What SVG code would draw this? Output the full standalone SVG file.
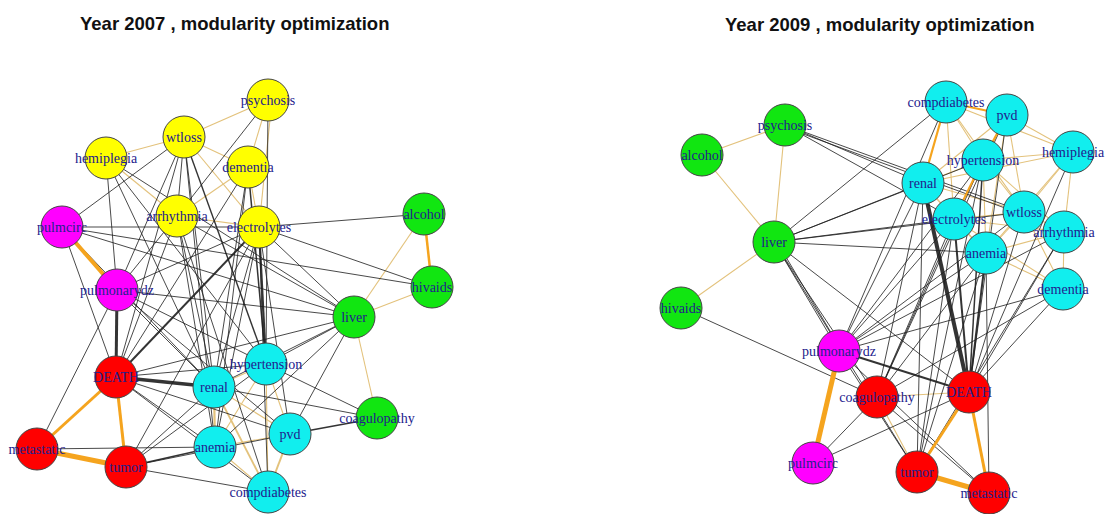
<svg xmlns="http://www.w3.org/2000/svg" width="1108" height="514" viewBox="0 0 1108 514">
<style>
.title{font-family:"Liberation Sans",Arial,sans-serif;font-weight:bold;font-size:18.5px;fill:#111}
.k{stroke:#1e1e1e;stroke-width:0.9;fill:none;stroke-opacity:0.9}
.t{stroke:#e3c27c;stroke-width:1.1;fill:none}
.o{stroke:#f5a41e;fill:none}
.n circle{stroke:#444;stroke-width:1}
.n text{font-family:"Liberation Serif","Times New Roman",serif;font-size:14px;fill:#22208c;text-anchor:middle;dominant-baseline:central}
.y{fill:#ffff00}.m{fill:#ff00ff}.g{fill:#11e611}.c{fill:#11eeee}.r{fill:#ff0000}
</style>
<rect width="1108" height="514" fill="#fff"/>
<text class="title" x="80" y="30">Year 2007 , modularity optimization</text>
<text class="title" x="725" y="31">Year 2009 , modularity optimization</text>

<g id="edges-2007">
<line class="t" x1="184" y1="137" x2="268" y2="100"/>
<line class="t" x1="184" y1="137" x2="106" y2="158"/>
<line class="t" x1="184" y1="137" x2="248" y2="167"/>
<line class="t" x1="184" y1="137" x2="259" y2="227"/>
<line class="t" x1="268" y1="100" x2="248" y2="167"/>
<line class="t" x1="272" y1="100" x2="259" y2="227"/>
<line class="t" x1="248" y1="167" x2="259" y2="227"/>
<line class="t" x1="177" y1="216" x2="248" y2="167"/>
<line class="t" x1="177" y1="216" x2="259" y2="227"/>
<line class="t" x1="106" y1="158" x2="177" y2="216"/>
<line class="t" x1="354" y1="317" x2="432" y2="287"/>
<line class="t" x1="354" y1="317" x2="424" y2="214"/>
<line class="t" x1="354" y1="317" x2="377" y2="418"/>
<line class="t" x1="214" y1="387" x2="266" y2="364"/>
<line class="t" x1="214" y1="387" x2="215" y2="447" style="stroke-width:2.2"/>
<line class="t" x1="214" y1="387" x2="290" y2="434"/>
<line class="t" x1="214" y1="387" x2="268" y2="492" style="stroke-width:1.8"/>
<line class="t" x1="266" y1="364" x2="290" y2="434"/>
<line class="t" x1="266" y1="364" x2="268" y2="492"/>
<line class="t" x1="266" y1="364" x2="215" y2="447"/>
<line class="t" x1="215" y1="447" x2="268" y2="492"/>
<line class="t" x1="290" y1="434" x2="268" y2="492" style="stroke-width:2"/>
<line class="t" x1="215" y1="447" x2="290" y2="434"/>
<line class="k" x1="116" y1="377" x2="117" y2="290" style="stroke-width:3"/>
<line class="k" x1="116" y1="377" x2="214" y2="387" style="stroke-width:3.5"/>
<line class="k" x1="116" y1="377" x2="259" y2="227" style="stroke-width:2"/>
<line class="k" x1="116" y1="377" x2="266" y2="364"/>
<line class="k" x1="116" y1="377" x2="215" y2="447"/>
<line class="k" x1="116" y1="377" x2="290" y2="434"/>
<line class="k" x1="116" y1="377" x2="354" y2="317"/>
<line class="k" x1="116" y1="377" x2="268" y2="492"/>
<line class="k" x1="116" y1="377" x2="177" y2="216"/>
<line class="k" x1="116" y1="377" x2="184" y2="137"/>
<line class="k" x1="116" y1="377" x2="248" y2="167"/>
<line class="k" x1="116" y1="377" x2="62" y2="227"/>
<line class="k" x1="126" y1="467" x2="215" y2="447" style="stroke-width:1.6"/>
<line class="k" x1="126" y1="467" x2="214" y2="387"/>
<line class="k" x1="126" y1="467" x2="268" y2="492"/>
<line class="k" x1="126" y1="467" x2="290" y2="434"/>
<line class="k" x1="126" y1="467" x2="266" y2="364"/>
<line class="k" x1="126" y1="467" x2="259" y2="227"/>
<line class="k" x1="37" y1="449" x2="215" y2="447"/>
<line class="k" x1="37" y1="449" x2="117" y2="290"/>
<line class="k" x1="117" y1="290" x2="106" y2="158"/>
<line class="k" x1="117" y1="290" x2="177" y2="216"/>
<line class="k" x1="117" y1="290" x2="184" y2="137"/>
<line class="k" x1="117" y1="290" x2="259" y2="227"/>
<line class="k" x1="117" y1="290" x2="354" y2="317"/>
<line class="k" x1="117" y1="290" x2="214" y2="387"/>
<line class="k" x1="117" y1="290" x2="266" y2="364"/>
<line class="k" x1="117" y1="290" x2="290" y2="434"/>
<line class="k" x1="106" y1="158" x2="214" y2="387"/>
<line class="k" x1="106" y1="158" x2="266" y2="364"/>
<line class="k" x1="106" y1="158" x2="354" y2="317"/>
<line class="k" x1="184" y1="137" x2="214" y2="387"/>
<line class="k" x1="184" y1="137" x2="266" y2="364" style="stroke-width:1.4"/>
<line class="k" x1="184" y1="137" x2="215" y2="447"/>
<line class="k" x1="184" y1="137" x2="62" y2="227"/>
<line class="k" x1="184" y1="137" x2="177" y2="216"/>
<line class="k" x1="177" y1="216" x2="214" y2="387"/>
<line class="k" x1="177" y1="216" x2="354" y2="317"/>
<line class="k" x1="177" y1="216" x2="215" y2="447"/>
<line class="k" x1="177" y1="216" x2="268" y2="492"/>
<line class="k" x1="248" y1="167" x2="214" y2="387"/>
<line class="k" x1="248" y1="167" x2="266" y2="364" style="stroke-width:1.5"/>
<line class="k" x1="248" y1="167" x2="215" y2="447"/>
<line class="k" x1="259" y1="227" x2="214" y2="387"/>
<line class="k" x1="259" y1="227" x2="266" y2="364" style="stroke-width:2.2"/>
<line class="k" x1="259" y1="227" x2="215" y2="447"/>
<line class="k" x1="259" y1="227" x2="290" y2="434"/>
<line class="k" x1="259" y1="227" x2="268" y2="492"/>
<line class="k" x1="259" y1="227" x2="354" y2="317"/>
<line class="k" x1="259" y1="227" x2="424" y2="214"/>
<line class="k" x1="259" y1="227" x2="432" y2="287"/>
<line class="k" x1="268" y1="100" x2="266" y2="364"/>
<line class="k" x1="268" y1="100" x2="177" y2="216"/>
<line class="k" x1="354" y1="317" x2="214" y2="387"/>
<line class="k" x1="354" y1="317" x2="266" y2="364"/>
<line class="k" x1="354" y1="317" x2="215" y2="447"/>
<line class="k" x1="354" y1="317" x2="290" y2="434"/>
<line class="k" x1="377" y1="418" x2="290" y2="434" style="stroke-width:1.6"/>
<line class="k" x1="377" y1="418" x2="214" y2="387"/>
<line class="k" x1="377" y1="418" x2="266" y2="364"/>
<line class="k" x1="62" y1="227" x2="432" y2="287"/>
<line class="k" x1="62" y1="227" x2="259" y2="227"/>
<line class="k" x1="62" y1="227" x2="214" y2="387"/>
<line class="k" x1="62" y1="227" x2="354" y2="317"/>
<line class="o" x1="62" y1="227" x2="117" y2="290" style="stroke-width:4"/>
<line class="o" x1="37" y1="449" x2="126" y2="467" style="stroke-width:5"/>
<line class="o" x1="116" y1="377" x2="126" y2="467" style="stroke-width:3"/>
<line class="o" x1="116" y1="377" x2="37" y2="449" style="stroke-width:3"/>
<line class="o" x1="424" y1="214" x2="432" y2="287" style="stroke-width:2.5"/>
</g>

<g id="edges-2009">
<line class="t" x1="702" y1="155" x2="785" y2="125"/>
<line class="t" x1="702" y1="155" x2="774" y2="242"/>
<line class="t" x1="785" y1="125" x2="774" y2="242"/>
<line class="t" x1="774" y1="242" x2="681" y2="308"/>
<line class="t" x1="877" y1="397" x2="969" y2="392"/>
<line class="t" x1="877" y1="397" x2="917" y2="472"/>
<line class="t" x1="946" y1="102" x2="983" y2="160"/>
<line class="t" x1="946" y1="102" x2="954" y2="219"/>
<line class="t" x1="946" y1="102" x2="1024" y2="212"/>
<line class="t" x1="946" y1="102" x2="1073" y2="152"/>
<line class="t" x1="1007" y1="115" x2="1073" y2="152"/>
<line class="t" x1="1007" y1="115" x2="1024" y2="212"/>
<line class="t" x1="1007" y1="115" x2="986" y2="253"/>
<line class="t" x1="1007" y1="115" x2="923" y2="183"/>
<line class="t" x1="1007" y1="115" x2="954" y2="219"/>
<line class="t" x1="983" y1="160" x2="923" y2="183"/>
<line class="t" x1="983" y1="160" x2="986" y2="253"/>
<line class="t" x1="983" y1="160" x2="1073" y2="152"/>
<line class="t" x1="983" y1="160" x2="1024" y2="212"/>
<line class="t" x1="983" y1="160" x2="1064" y2="232"/>
<line class="t" x1="923" y1="183" x2="954" y2="219"/>
<line class="t" x1="923" y1="183" x2="1024" y2="212"/>
<line class="t" x1="923" y1="183" x2="986" y2="253"/>
<line class="t" x1="954" y1="219" x2="1024" y2="212"/>
<line class="t" x1="954" y1="219" x2="986" y2="253"/>
<line class="t" x1="954" y1="219" x2="1064" y2="232"/>
<line class="t" x1="1024" y1="212" x2="1073" y2="152"/>
<line class="t" x1="1024" y1="212" x2="1064" y2="232"/>
<line class="t" x1="1024" y1="212" x2="986" y2="253"/>
<line class="t" x1="1024" y1="212" x2="1063" y2="289"/>
<line class="t" x1="1064" y1="232" x2="1073" y2="152"/>
<line class="t" x1="1064" y1="232" x2="1063" y2="289"/>
<line class="t" x1="986" y1="253" x2="1063" y2="289"/>
<line class="t" x1="986" y1="253" x2="1064" y2="232"/>
<line class="t" x1="1073" y1="152" x2="986" y2="253"/>
<line class="t" x1="1073" y1="152" x2="923" y2="183"/>
<line class="t" x1="954" y1="219" x2="1063" y2="289"/>
<line class="k" x1="785" y1="125" x2="923" y2="183"/>
<line class="k" x1="785" y1="125" x2="1024" y2="212"/>
<line class="k" x1="787" y1="128" x2="1024" y2="215"/>
<line class="k" x1="785" y1="125" x2="954" y2="219"/>
<line class="k" x1="774" y1="242" x2="923" y2="183"/>
<line class="k" x1="774" y1="242" x2="946" y2="102"/>
<line class="k" x1="774" y1="242" x2="983" y2="160"/>
<line class="k" x1="774" y1="242" x2="954" y2="219"/>
<line class="k" x1="774" y1="242" x2="986" y2="253"/>
<line class="k" x1="774" y1="242" x2="1024" y2="212"/>
<line class="k" x1="774" y1="242" x2="839" y2="351"/>
<line class="k" x1="777" y1="242" x2="842" y2="351"/>
<line class="k" x1="774" y1="242" x2="969" y2="392"/>
<line class="k" x1="774" y1="242" x2="877" y2="397"/>
<line class="k" x1="774" y1="242" x2="917" y2="472"/>
<line class="k" x1="681" y1="308" x2="877" y2="397"/>
<line class="k" x1="923" y1="183" x2="969" y2="392" style="stroke-width:4"/>
<line class="k" x1="954" y1="219" x2="969" y2="392" style="stroke-width:2"/>
<line class="k" x1="986" y1="253" x2="969" y2="392" style="stroke-width:2"/>
<line class="k" x1="983" y1="160" x2="969" y2="392" style="stroke-width:1.5"/>
<line class="k" x1="1007" y1="115" x2="969" y2="392"/>
<line class="k" x1="1063" y1="289" x2="969" y2="392"/>
<line class="k" x1="1064" y1="232" x2="969" y2="392"/>
<line class="k" x1="1024" y1="212" x2="969" y2="392"/>
<line class="k" x1="1073" y1="152" x2="969" y2="392"/>
<line class="k" x1="839" y1="351" x2="969" y2="392" style="stroke-width:2"/>
<line class="k" x1="839" y1="351" x2="923" y2="183"/>
<line class="k" x1="839" y1="351" x2="954" y2="219"/>
<line class="k" x1="839" y1="351" x2="986" y2="253"/>
<line class="k" x1="839" y1="351" x2="983" y2="160"/>
<line class="k" x1="839" y1="351" x2="1024" y2="212"/>
<line class="k" x1="839" y1="351" x2="946" y2="102"/>
<line class="k" x1="839" y1="351" x2="1064" y2="232"/>
<line class="k" x1="839" y1="351" x2="1063" y2="289"/>
<line class="k" x1="877" y1="397" x2="923" y2="183"/>
<line class="k" x1="877" y1="397" x2="986" y2="253"/>
<line class="k" x1="877" y1="397" x2="954" y2="219"/>
<line class="k" x1="877" y1="397" x2="983" y2="160"/>
<line class="k" x1="877" y1="397" x2="1063" y2="289"/>
<line class="k" x1="877" y1="397" x2="1007" y2="115"/>
<line class="k" x1="917" y1="472" x2="923" y2="183"/>
<line class="k" x1="917" y1="472" x2="954" y2="219"/>
<line class="k" x1="917" y1="472" x2="986" y2="253"/>
<line class="k" x1="917" y1="472" x2="839" y2="351"/>
<line class="k" x1="917" y1="472" x2="983" y2="160"/>
<line class="k" x1="917" y1="472" x2="1064" y2="232"/>
<line class="k" x1="989" y1="493" x2="839" y2="351"/>
<line class="k" x1="989" y1="493" x2="877" y2="397"/>
<line class="k" x1="989" y1="493" x2="986" y2="253"/>
<line class="k" x1="813" y1="463" x2="877" y2="397"/>
<line class="k" x1="813" y1="463" x2="969" y2="392"/>
<line class="o" x1="946" y1="102" x2="1007" y2="115" style="stroke-width:2.2"/>
<line class="o" x1="946" y1="102" x2="923" y2="183" style="stroke-width:2.2"/>
<line class="o" x1="1007" y1="115" x2="983" y2="160" style="stroke-width:2.2"/>
<line class="o" x1="983" y1="160" x2="954" y2="219" style="stroke-width:2"/>
<line class="o" x1="839" y1="351" x2="813" y2="463" style="stroke-width:5"/>
<line class="o" x1="917" y1="472" x2="989" y2="493" style="stroke-width:5"/>
<line class="o" x1="969" y1="392" x2="917" y2="472" style="stroke-width:3"/>
<line class="o" x1="969" y1="392" x2="989" y2="493" style="stroke-width:3"/>
</g>

<g id="nodes-2007">
<g id="l-psychosis" class="n"><circle class="y" cx="268" cy="100" r="21"/><text x="268" y="100">psychosis</text></g>
<g id="l-wtloss" class="n"><circle class="y" cx="184" cy="137" r="21"/><text x="184" y="137">wtloss</text></g>
<g id="l-hemiplegia" class="n"><circle class="y" cx="106" cy="158" r="21"/><text x="106" y="158">hemiplegia</text></g>
<g id="l-dementia" class="n"><circle class="y" cx="248" cy="167" r="21"/><text x="248" y="167">dementia</text></g>
<g id="l-arrhythmia" class="n"><circle class="y" cx="177" cy="216" r="21"/><text x="177" y="216">arrhythmia</text></g>
<g id="l-electrolytes" class="n"><circle class="y" cx="259" cy="227" r="21"/><text x="259" y="227">electrolytes</text></g>
<g id="l-alcohol" class="n"><circle class="g" cx="424" cy="214" r="21"/><text x="424" y="214">alcohol</text></g>
<g id="l-hivaids" class="n"><circle class="g" cx="432" cy="287" r="21"/><text x="432" y="287">hivaids</text></g>
<g id="l-pulmcirc" class="n"><circle class="m" cx="62" cy="227" r="21"/><text x="62" y="227">pulmcirc</text></g>
<g id="l-pulmonarydz" class="n"><circle class="m" cx="117" cy="290" r="21"/><text x="117" y="290">pulmonarydz</text></g>
<g id="l-liver" class="n"><circle class="g" cx="354" cy="317" r="21"/><text x="354" y="317">liver</text></g>
<g id="l-DEATH" class="n"><circle class="r" cx="116" cy="377" r="21"/><text x="116" y="377">DEATH</text></g>
<g id="l-renal" class="n"><circle class="c" cx="214" cy="387" r="21"/><text x="214" y="387">renal</text></g>
<g id="l-hypertension" class="n"><circle class="c" cx="266" cy="364" r="21"/><text x="266" y="364">hypertension</text></g>
<g id="l-anemia" class="n"><circle class="c" cx="215" cy="447" r="21"/><text x="215" y="447">anemia</text></g>
<g id="l-coagulopathy" class="n"><circle class="g" cx="377" cy="418" r="21"/><text x="377" y="418">coagulopathy</text></g>
<g id="l-pvd" class="n"><circle class="c" cx="290" cy="434" r="21"/><text x="290" y="434">pvd</text></g>
<g id="l-metastatic" class="n"><circle class="r" cx="37" cy="449" r="21"/><text x="37" y="449">metastatic</text></g>
<g id="l-tumor" class="n"><circle class="r" cx="126" cy="467" r="21"/><text x="126" y="467">tumor</text></g>
<g id="l-compdiabetes" class="n"><circle class="c" cx="268" cy="492" r="21"/><text x="268" y="492">compdiabetes</text></g>
</g>

<g id="nodes-2009">
<g id="r-psychosis" class="n"><circle class="g" cx="785" cy="125" r="21"/><text x="785" y="125">psychosis</text></g>
<g id="r-alcohol" class="n"><circle class="g" cx="702" cy="155" r="21"/><text x="702" y="155">alcohol</text></g>
<g id="r-liver" class="n"><circle class="g" cx="774" cy="242" r="21"/><text x="774" y="242">liver</text></g>
<g id="r-hivaids" class="n"><circle class="g" cx="681" cy="308" r="21"/><text x="681" y="308">hivaids</text></g>
<g id="r-compdiabetes" class="n"><circle class="c" cx="946" cy="102" r="21"/><text x="946" y="102">compdiabetes</text></g>
<g id="r-pvd" class="n"><circle class="c" cx="1007" cy="115" r="21"/><text x="1007" y="115">pvd</text></g>
<g id="r-hemiplegia" class="n"><circle class="c" cx="1073" cy="152" r="21"/><text x="1073" y="152">hemiplegia</text></g>
<g id="r-renal" class="n"><circle class="c" cx="923" cy="183" r="21"/><text x="923" y="183">renal</text></g>
<g id="r-hypertension" class="n"><circle class="c" cx="983" cy="160" r="21"/><text x="983" y="160">hypertension</text></g>
<g id="r-wtloss" class="n"><circle class="c" cx="1024" cy="212" r="21"/><text x="1024" y="212">wtloss</text></g>
<g id="r-electrolytes" class="n"><circle class="c" cx="954" cy="219" r="21"/><text x="954" y="219">electrolytes</text></g>
<g id="r-arrhythmia" class="n"><circle class="c" cx="1064" cy="232" r="21"/><text x="1064" y="232">arrhythmia</text></g>
<g id="r-anemia" class="n"><circle class="c" cx="986" cy="253" r="21"/><text x="986" y="253">anemia</text></g>
<g id="r-dementia" class="n"><circle class="c" cx="1063" cy="289" r="21"/><text x="1063" y="289">dementia</text></g>
<g id="r-pulmonarydz" class="n"><circle class="m" cx="839" cy="351" r="21"/><text x="839" y="351">pulmonarydz</text></g>
<g id="r-coagulopathy" class="n"><circle class="r" cx="877" cy="397" r="21"/><text x="877" y="397">coagulopathy</text></g>
<g id="r-DEATH" class="n"><circle class="r" cx="969" cy="392" r="21"/><text x="969" y="392">DEATH</text></g>
<g id="r-pulmcirc" class="n"><circle class="m" cx="813" cy="463" r="21"/><text x="813" y="463">pulmcirc</text></g>
<g id="r-tumor" class="n"><circle class="r" cx="917" cy="472" r="21"/><text x="917" y="472">tumor</text></g>
<g id="r-metastatic" class="n"><circle class="r" cx="989" cy="493" r="21"/><text x="989" y="493">metastatic</text></g>
</g>
</svg>
